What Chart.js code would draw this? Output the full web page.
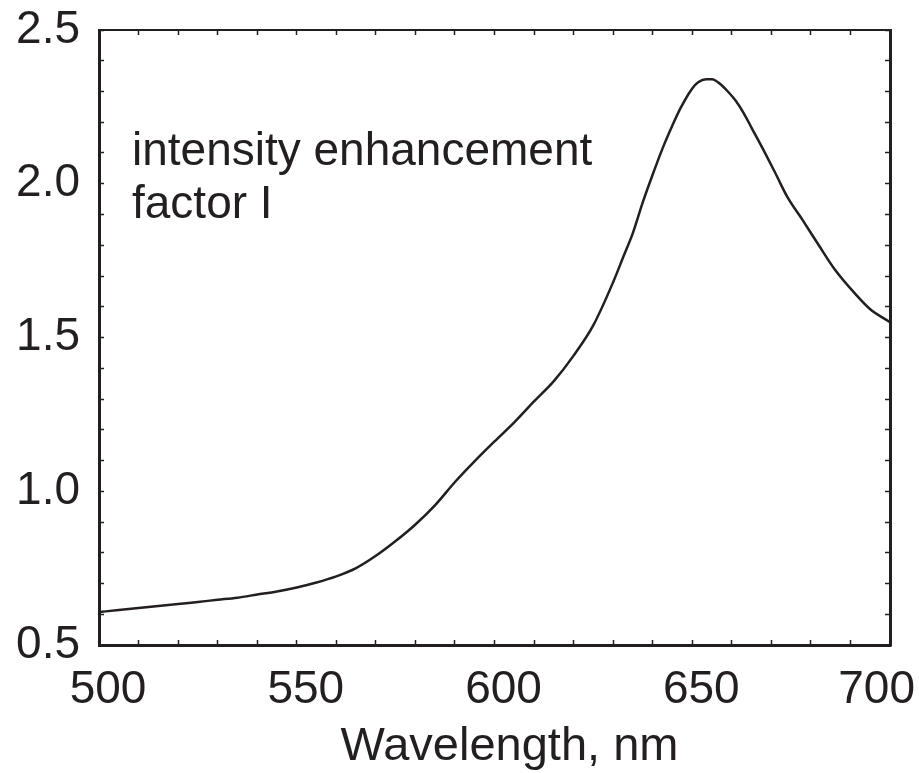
<!DOCTYPE html>
<html>
<head>
<script src="https://cdn.jsdelivr.net/npm/chart.js@4.4.1/dist/chart.umd.min.js"></script>
<title>Intensity enhancement factor</title>
<style>
  body { margin: 0; background: #fff; }
</style>
</head>
<body>
<canvas id="myChart" width="919" height="773"></canvas>
<script>
// data
var wavelengths = [500, 505, 510, 515, 520, 525, 530, 535, 540, 545, 550, 555, 560, 565, 570, 575,
                   580, 585, 590, 595, 600, 605, 610, 615, 620, 625, 630, 632.5, 635, 637.5, 640,
                   642.5, 645, 647, 650, 651.5, 653.5, 655, 657, 659, 661, 663, 665, 668, 671, 674,
                   678, 682, 686, 691, 695, 700];
var intensity = [0.607, 0.614, 0.620, 0.627, 0.633, 0.640, 0.647, 0.654, 0.664, 0.674, 0.687, 0.703,
                 0.723, 0.750, 0.790, 0.838, 0.892, 0.955, 1.030, 1.098, 1.162, 1.224, 1.292, 1.358,
                 1.441, 1.540, 1.680, 1.760, 1.840, 1.940, 2.030, 2.115, 2.190, 2.245, 2.310, 2.330,
                 2.340, 2.340, 2.325, 2.300, 2.270, 2.230, 2.182, 2.110, 2.035, 1.958, 1.880, 1.800,
                 1.722, 1.645, 1.592, 1.550];
var xTickLabels = [500, 550, 600, 650, 700];
var xTitle = 'Wavelength, nm';
var noteLines = ['intensity enhancement', 'factor I'];

var ink = '#231f20';
var fontFamily = '"Liberation Sans", Arial, Helvetica, sans-serif';

var points = [];
for (var i = 0; i < wavelengths.length; i++) {
  points.push({x: wavelengths[i], y: intensity[i]});
}

// x labels, axis title and the note are drawn here (labels nudged like the original)
var textPlugin = {
  id: 'textPlugin',
  afterDraw: function(chart) {
    var ctx = chart.ctx;
    var xs = chart.scales.x;
    ctx.save();
    ctx.fillStyle = ink;
    ctx.font = '46px ' + fontFamily;
    ctx.textAlign = 'center';
    ctx.textBaseline = 'alphabetic';
    xTickLabels.forEach(function(v) {
      var txt = String(v);
      var w = ctx.measureText(txt).width;
      var px = xs.getPixelForValue(v) + 9;
      px = Math.max(w / 2 + 4, Math.min(chart.width - w / 2 - 4, px));
      ctx.fillText(txt, px, 703);
    });
    ctx.font = '47px ' + fontFamily;
    ctx.fillText(xTitle, (chart.chartArea.left + chart.chartArea.right) / 2 + 15, 760);

    ctx.font = '46px ' + fontFamily;
    ctx.textAlign = 'left';
    noteLines.forEach(function(line, k) {
      ctx.fillText(line, 132, 165 + k * 53);
    });
    ctx.restore();
  }
};

function isMajorY(v) {
  return Math.abs(v * 2 - Math.round(v * 2)) < 1e-6;
}

var tickGrid = {
  display: true,
  drawOnChartArea: false,
  drawTicks: true,
  tickLength: -5,
  tickWidth: 1.5,
  tickColor: ink
};

var ctx = document.getElementById('myChart').getContext('2d');
var myChart = new Chart(ctx, {
  type: 'line',
  data: {
    datasets: [{
      data: points,
      borderColor: ink,
      borderWidth: 2.5,
      pointRadius: 0,
      cubicInterpolationMode: 'monotone',
      fill: false
    }]
  },
  options: {
    responsive: false,
    animation: false,
    devicePixelRatio: 1,
    layout: { padding: 0 },
    plugins: {
      legend: { display: false },
      tooltip: { enabled: false }
    },
    scales: {
      x: {
        type: 'linear', position: 'bottom', min: 500, max: 700,
        ticks: { stepSize: 10, display: false },
        grid: tickGrid,
        border: { color: ink, width: 3 },
        afterFit: function(s) { s.height = 128; s.paddingLeft = 0; s.paddingRight = 0; }
      },
      x2: {
        type: 'linear', position: 'top', min: 500, max: 700,
        ticks: { stepSize: 10, display: false },
        grid: tickGrid,
        border: { color: ink, width: 2 },
        afterFit: function(s) { s.height = 30; s.paddingLeft = 0; s.paddingRight = 0; }
      },
      y: {
        type: 'linear', position: 'left', min: 0.5, max: 2.5,
        ticks: {
          stepSize: 0.1,
          autoSkip: false,
          padding: 24,
          color: ink,
          font: { size: 46, family: fontFamily },
          callback: function(v) { return isMajorY(v) ? v.toFixed(1) : ''; }
        },
        grid: tickGrid,
        border: { color: ink, width: 3 },
        afterFit: function(s) { s.width = 99; s.paddingTop = 0; s.paddingBottom = 0; }
      },
      y2: {
        type: 'linear', position: 'right', min: 0.5, max: 2.5,
        ticks: { stepSize: 0.1, display: false },
        grid: tickGrid,
        border: { color: ink, width: 3 },
        afterFit: function(s) { s.width = 29; s.paddingTop = 0; s.paddingBottom = 0; }
      }
    }
  },
  plugins: [textPlugin]
});
</script>
</body>
</html>
